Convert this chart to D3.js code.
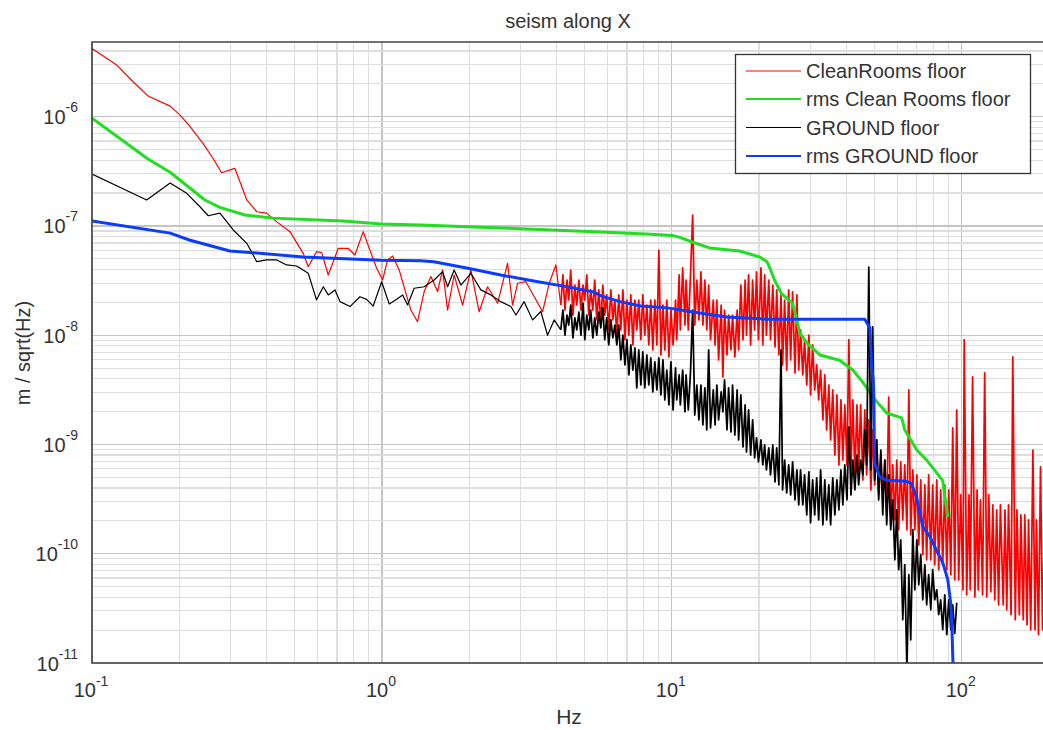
<!DOCTYPE html>
<html><head><meta charset="utf-8">
<script src="https://cdn.jsdelivr.net/npm/d3@7/dist/d3.min.js"></script>
<style>
html,body{margin:0;padding:0;background:#fff;}
svg{display:block;font-family:"Liberation Sans",Arial,sans-serif;}
</style></head>
<body><svg id="chart" width="1043" height="730"></svg>
<script>
// ---------- data ----------
const titleText = "seism along X";
const xLabelText = "Hz";
const yLabelText = "m / sqrt(Hz)";
const xTickExp = [-1, 0, 1, 2];
const yTickExp = [-11, -10, -9, -8, -7, -6];
const xDomain = [0.1, 200];
const yDomain = [1e-11, 4.83e-6];
const seriesNames = ["CleanRooms floor", "rms Clean Rooms floor", "GROUND floor", "rms GROUND floor"];

// frequency bins (Hz) of the dense, high-frequency part of the spectra
const denseFreq = [
 4.14,4.21,4.28,4.35,4.41,4.48,4.56,4.63,4.70,4.78,
 4.86,4.94,5.01,5.09,5.17,5.25,5.34,5.42,5.51,5.60,
 5.69,5.78,5.87,5.96,6.06,6.16,6.26,6.36,6.46,6.56,
 6.67,6.78,6.89,7.00,7.11,7.22,7.34,7.46,7.57,7.69,
 7.82,7.94,8.07,8.20,8.33,8.46,8.60,8.74,8.88,9.02,
 9.17,9.32,9.46,9.61,9.77,9.93,10.1,10.3,10.4,10.6,
 10.7,10.9,11.1,11.2,11.4,11.6,11.8,12.0,12.2,12.4,
 12.6,12.8,13.0,13.2,13.4,13.6,13.9,14.1,14.3,14.5,
 14.8,15.0,15.2,15.5,15.7,16.0,16.2,16.5,16.8,17.0,
 17.3,17.6,17.9,18.1,18.4,18.7,19.0,19.3,19.6,19.9,
 20.3,20.6,20.9,21.2,21.6,21.9,22.3,22.7,23.0,23.4,
 23.8,24.1,24.5,24.9,25.3,25.7,26.1,26.6,27.0,27.4,
 27.8,28.3,28.7,29.2,29.7,30.1,30.6,31.1,31.6,32.1,
 32.6,33.2,33.7,34.2,34.8,35.3,35.9,36.5,37.1,37.7,
 38.3,38.9,39.5,40.2,40.8,41.5,42.1,42.8,43.5,44.1,
 44.8,45.6,46.3,47.0,47.8,48.6,49.3,50.1,50.9,51.7,
 52.6,53.4,54.3,55.1,56.0,56.9,57.8,58.8,59.7,60.6,
 61.6,62.6,63.6,64.7,65.7,66.7,67.8,68.9,70.0,71.1,
 72.2,73.4,74.6,75.7,76.9,78.2,79.4,80.7,82.0,83.3,
 84.6,86.0,87.4,88.8,90.2,91.7,93.1,94.6,96.1,97.6,
 99.2,101,102,104,106,107,109,111,113,114,
 116,118,120,122,124,126,128,130,132,134,
 136,139,141,143,145,148,150,153,155,158,
 160,163,165,168,170,173,176,179,181,184,
 187,190,193];

// CleanRooms floor (m/sqrt(Hz))
const cleanLowFreq = [0.1,0.1217,0.1385,0.156,0.186,0.201,0.218,0.241,0.261,0.280,0.311,0.342,0.370,0.400,0.434,0.482,0.535,0.557,0.595,0.620,0.653,0.707,0.765,0.807,0.862,0.959,1.006,1.046,1.089,1.147,1.210,1.259,1.327,1.399,1.476,1.556,1.619,1.685,1.775,1.898,2.027,2.165,2.315,2.506,2.713,2.823,2.938,3.137,3.351,3.582,3.775,3.981];
const cleanLowAmp = [4.22e-6,2.97e-6,2.09e-6,1.55e-6,1.25e-6,1.04e-6,8.1e-7,5.74e-7,4.19e-7,3.07e-7,3.37e-7,1.73e-7,1.35e-7,1.31e-7,1.09e-7,8.87e-8,5.62e-8,4.24e-8,5.82e-8,5.70e-8,3.56e-8,6.25e-8,6.25e-8,5.43e-8,8.87e-8,4.10e-8,3.21e-8,4.89e-8,5.32e-8,3.96e-8,2.42e-8,1.70e-8,1.33e-8,2.51e-8,3.44e-8,2.51e-8,3.96e-8,1.70e-8,3.56e-8,1.89e-8,3.96e-8,1.64e-8,2.78e-8,1.96e-8,4.56e-8,1.89e-8,2.99e-8,3.09e-8,2.26e-8,1.64e-8,2.99e-8,4.40e-8];
const cleanDenseAmp = [
 1.89e-8,3.56e-8,1.7e-8,3.2e-8,2.1e-8,3.95e-8,1.53e-8,2.88e-8,1.89e-8,3.2e-8,
 1.7e-8,2.88e-8,2.1e-8,3.56e-8,1.53e-8,2.6e-8,1.7e-8,3.2e-8,1.38e-8,2.6e-8,
 1.24e-8,2.88e-8,1.53e-8,2.34e-8,1.12e-8,2.6e-8,1.38e-8,2.1e-8,1.0e-8,2.34e-8,
 1.12e-8,2.6e-8,9.1e-9,2.1e-8,1.0e-8,2.34e-8,8.15e-9,2.1e-8,1.12e-8,2.1e-8,
 9.1e-9,2.34e-8,1.0e-8,1.89e-8,8.15e-9,2.1e-8,7.35e-9,2.1e-8,8.15e-9,6.0e-8,
 6.6e-9,1.89e-8,7.35e-9,2.1e-8,6.33e-9,1.7e-8,8.15e-9,2.1e-8,9.1e-9,3.56e-8,
 1.12e-8,4.13e-8,1.24e-8,3.2e-8,1.12e-8,3.56e-8,1.26e-7,1.24e-8,3.2e-8,1.38e-8,
 3.8e-8,1.24e-8,3.2e-8,1.12e-8,2.88e-8,9.1e-9,2.1e-8,8.15e-9,2.1e-8,5.95e-9,
 1.89e-8,4.15e-9,1.7e-8,6.6e-9,1.53e-8,7.35e-9,1.53e-8,6.33e-9,1.7e-8,7.35e-9,
 2.88e-8,9.1e-9,3.2e-8,1.0e-8,3.56e-8,8.15e-9,3.2e-8,1.12e-8,3.8e-8,9.1e-9,
 4.13e-8,8.15e-9,3.56e-8,1.0e-8,3.2e-8,9.1e-9,2.88e-8,7.82e-9,2.6e-8,6.6e-9,
 2.34e-8,5.35e-9,2.1e-8,4.8e-9,2.6e-8,5.95e-9,2.49e-8,4.52e-9,2.34e-8,4.8e-9,
 1.12e-8,4.33e-9,9.1e-9,3.5e-9,1.0e-8,2.84e-9,8.15e-9,3.16e-9,5.35e-9,2.56e-9,
 4.8e-9,1.68e-9,4.33e-9,1.36e-9,3.5e-9,1.1e-9,3.16e-9,8.0e-10,2.84e-9,6.5e-10,
 2.56e-9,7.2e-10,2.3e-9,6.5e-10,9.1e-9,5.85e-10,2.56e-9,5.27e-10,2.3e-9,5.85e-10,
 2.3e-9,4.74e-10,2.07e-9,5.27e-10,1.68e-9,3.84e-10,1.36e-9,4.27e-10,1.1e-9,3.46e-10,
 8.0e-10,3.11e-10,7.2e-10,2.27e-10,2.72e-9,1.84e-10,6.5e-10,2.04e-10,7.2e-10,1.66e-10,
 6.93e-10,2.04e-10,6.5e-10,1.66e-10,3.16e-9,1.49e-10,5.85e-10,1.66e-10,5.27e-10,1.21e-10,
 4.74e-10,9.8e-11,4.27e-10,8.8e-11,5.27e-10,8.8e-11,4.27e-10,7.93e-11,4.74e-10,7.14e-11,
 3.84e-10,7.93e-11,4.27e-10,7.14e-11,3.84e-10,6.43e-11,1.42e-9,5.78e-11,2.07e-9,5.78e-11,
 3.46e-10,4.68e-11,9.1e-9,4.21e-11,3.46e-10,4.68e-11,4.15e-9,4.04e-11,3.84e-10,4.68e-11,
 3.11e-10,4.21e-11,4.52e-9,4.04e-11,3.46e-10,4.49e-11,2.8e-10,3.79e-11,2.52e-10,3.41e-11,
 2.8e-10,3.41e-11,2.52e-10,3.07e-11,2.8e-10,2.77e-11,6.33e-9,2.49e-11,2.52e-10,2.77e-11,
 2.27e-10,2.49e-11,2.27e-10,2.24e-11,2.04e-10,2.02e-11,8.9e-10,2.02e-11,2.04e-10,1.82e-11,
 6.24e-10,2.02e-11,2.04e-10];

// rms Clean Rooms floor
const rmsCleanFreq = [0.1,0.156,0.186,0.245,0.276,0.337,0.421,0.734,1.0,1.36,2.57,5.69,8.47,10.0,10.6,11.8,13.5,17.1,20.1,21.3,21.8,22.6,23.9,26.1,27.0,27.6,29.2,32.4,37.9,42.1,45.6,50.1,55.1,62.1,63.6,70.0,75.7,85.9,89.5];
const rmsCleanAmp = [9.7e-7,4.1e-7,3.1e-7,1.73e-7,1.48e-7,1.26e-7,1.18e-7,1.11e-7,1.04e-7,1.02e-7,9.6e-8,8.8e-8,8.4e-8,8.2e-8,7.9e-8,7.1e-8,6.3e-8,5.9e-8,5.2e-8,4.7e-8,4.1e-8,3.2e-8,2.4e-8,1.96e-8,1.38e-8,1.05e-8,8.5e-9,6.6e-9,5.9e-9,4.8e-9,3.7e-9,2.6e-9,1.94e-9,1.75e-9,1.36e-9,8.9e-10,7.2e-10,4.7e-10,2.17e-10];

// GROUND floor
const groundLowFreq = [0.1,0.1544,0.186,0.2122,0.2357,0.2518,0.2763,0.307,0.342,0.370,0.400,0.434,0.469,0.508,0.557,0.595,0.628,0.653,0.689,0.717,0.776,0.840,0.886,0.933,0.998,1.060,1.118,1.179,1.226,1.292,1.399,1.514,1.619,1.685,1.775,1.873,2.027,2.194,2.376,2.57,2.785,2.899,3.095,3.310,3.534,3.727,3.928];
const groundLowAmp = [2.99e-7,1.73e-7,2.47e-7,1.99e-7,1.50e-7,1.24e-7,1.31e-7,9.19e-8,6.94e-8,4.71e-8,4.89e-8,4.89e-8,4.40e-8,4.30e-8,3.69e-8,2.11e-8,2.78e-8,2.34e-8,2.60e-8,2.03e-8,1.83e-8,2.25e-8,2.13e-8,1.85e-8,3.09e-8,1.93e-8,2.11e-8,2.34e-8,1.89e-8,2.69e-8,2.78e-8,3.20e-8,3.82e-8,2.78e-8,3.96e-8,2.88e-8,3.69e-8,2.60e-8,2.34e-8,2.03e-8,1.83e-8,1.53e-8,2.03e-8,1.38e-8,1.65e-8,1.0e-8,1.38e-8];
const groundDenseAmp = [
 1.12e-8,1.7e-8,1.0e-8,1.53e-8,1.24e-8,1.89e-8,9.45e-9,1.44e-8,1.12e-8,1.63e-8,
 1.0e-8,1.97e-8,9.1e-9,1.53e-8,1.12e-8,1.7e-8,9.45e-9,1.44e-8,1.0e-8,1.63e-8,
 1.17e-8,1.78e-8,9.1e-9,1.44e-8,8.15e-9,1.38e-8,9.45e-9,1.24e-8,8.15e-9,1.24e-8,
 5.95e-9,1.0e-8,5.35e-9,9.1e-9,4.33e-9,8.15e-9,4.8e-9,7.65e-9,3.3e-9,7.35e-9,
 3.5e-9,7.03e-9,3.3e-9,6.6e-9,3.5e-9,6.2e-9,3.03e-9,5.7e-9,3.16e-9,6.2e-9,
 2.84e-9,5.95e-9,2.56e-9,4.8e-9,2.3e-9,5.7e-9,2.07e-9,5.02e-9,2.56e-9,4.33e-9,
 2.3e-9,4.8e-9,1.99e-9,4.33e-9,2.07e-9,4.62e-9,1.7e-8,1.86e-9,3.5e-9,1.68e-9,
 3.5e-9,1.51e-9,3.3e-9,1.36e-9,7.35e-9,1.42e-9,3.16e-9,1.51e-9,3.5e-9,1.68e-9,
 3.03e-9,1.99e-9,3.9e-9,1.36e-9,3.3e-9,1.3e-9,3.5e-9,1.22e-9,3.16e-9,1.1e-9,
 2.84e-9,9.5e-10,2.3e-9,8.56e-10,2.07e-9,8.0e-10,1.68e-9,7.54e-10,1.15e-9,6.93e-10,
 1.1e-9,6.5e-10,9.9e-10,5.85e-10,9.3e-10,5.27e-10,9.9e-10,4.55e-10,9.3e-10,4.27e-10,
 7.35e-9,3.84e-10,7.2e-10,3.61e-10,6.5e-10,3.46e-10,6.93e-10,3.11e-10,5.85e-10,2.8e-10,
 5.85e-10,2.8e-10,5.27e-10,2.27e-10,5.61e-10,1.92e-10,4.74e-10,2.27e-10,4.95e-10,2.04e-10,
 5.85e-10,1.84e-10,4.74e-10,2.04e-10,4.27e-10,1.84e-10,4.95e-10,2.27e-10,4.74e-10,2.52e-10,
 5.85e-10,2.8e-10,6.5e-10,3.11e-10,1.45e-9,3.46e-10,7.2e-10,3.84e-10,8.0e-10,4.27e-10,
 7.2e-10,5.27e-10,1.36e-9,6.5e-10,4.21e-8,5.85e-10,1.19e-8,4.74e-10,1.1e-9,3.11e-10,
 8.9e-10,2.27e-10,7.2e-10,1.84e-10,5.27e-10,1.66e-10,3.11e-10,8.8e-11,2.52e-10,7.14e-11,
 1.34e-10,2.49e-11,7.93e-11,8.6e-12,6.43e-11,1.63e-11,1.66e-10,4.68e-11,1.34e-10,5.2e-11,
 9.8e-11,3.79e-11,7.93e-11,3.41e-11,6.43e-11,3.07e-11,7.14e-11,3.79e-11,4.68e-11,2.77e-11,
 3.79e-11,2.02e-11,4.21e-11,1.82e-11,3.79e-11,2.02e-11,3.41e-11,1.86e-11,3.56e-11];

// rms GROUND floor
const rmsGroundFreq = [0.1,0.186,0.218,0.299,0.359,0.534,0.992,1.36,1.51,1.98,2.57,3.34,4.38,5.38,5.69,6.67,7.82,9.68,11.8,15.5,21.3,46.3,48.2,48.9,49.5,49.8,49.9,50.1,52.1,54.9,64.4,67.0,69.8,71.6,73.4,77.6,81.8,86.0,89.5,91.5,92.2,93.3,94.0];
const rmsGroundAmp = [1.11e-7,8.6e-8,7.4e-8,5.9e-8,5.7e-8,5.2e-8,4.85e-8,4.8e-8,4.7e-8,4.1e-8,3.56e-8,3.14e-8,2.77e-8,2.49e-8,2.29e-8,2.02e-8,1.85e-8,1.78e-8,1.63e-8,1.47e-8,1.40e-8,1.40e-8,1.17e-8,5.2e-9,3.9e-9,2.56e-9,1.18e-9,6.7e-10,5.1e-10,4.7e-10,4.6e-10,4.4e-10,3.3e-10,2.4e-10,1.77e-10,1.44e-10,1.08e-10,8.3e-11,5.8e-11,3.6e-11,2.7e-11,1.0e-11,7e-12];

// ---------- build series ----------
const zip = (fs, vs) => fs.map((f, i) => ({f: f, v: vs[i]}));
const cleanLow = zip(cleanLowFreq, cleanLowAmp);
const cleanDense = zip(denseFreq.slice(0, cleanDenseAmp.length), cleanDenseAmp);
const groundLow = zip(groundLowFreq, groundLowAmp);
const groundDense = zip(denseFreq.slice(0, groundDenseAmp.length), groundDenseAmp);

const series = [
  {name: seriesNames[0], color: "#ff0000", legendWidth: 1.2,
   parts: [{data: cleanLow.concat(cleanDense.slice(0, 1)), width: 1.2}, {data: cleanDense, width: 1.75}]},
  {name: seriesNames[1], color: "#22dd22", legendWidth: 2.2,
   parts: [{data: zip(rmsCleanFreq, rmsCleanAmp), width: 3}]},
  {name: seriesNames[2], color: "#000000", legendWidth: 1.2,
   parts: [{data: groundLow.concat(groundDense.slice(0, 1)), width: 1.2}, {data: groundDense, width: 1.75}]},
  {name: seriesNames[3], color: "#0a3cff", legendWidth: 2.2,
   parts: [{data: zip(rmsGroundFreq, rmsGroundAmp), width: 3}]}
];

// ---------- layout ----------
const W = 1043, H = 730;
const L = 92, T = 42, B = 663, R = 1049;
const svg = d3.select("#chart");
svg.append("rect").attr("width", W).attr("height", H).attr("fill", "#fff");

const x = d3.scaleLog().domain(xDomain).range([L, R]);
const y = d3.scaleLog().domain(yDomain).range([B, T]);

svg.append("defs").append("clipPath").attr("id", "plotclip")
  .append("rect").attr("x", L).attr("y", T).attr("width", R - L).attr("height", B - T);

// grid
const isDecade = v => Math.abs(Math.log10(v) - Math.round(Math.log10(v))) < 1e-6;
const grid = svg.append("g");
grid.selectAll("line.vx").data(x.ticks()).join("line")
  .attr("x1", d => x(d)).attr("x2", d => x(d)).attr("y1", T).attr("y2", B)
  .attr("stroke", d => isDecade(d) ? "#c4c4c4" : "#dedede").attr("stroke-width", 1.2)
  .attr("shape-rendering", "crispEdges");
grid.selectAll("line.hy").data(y.ticks()).join("line")
  .attr("y1", d => y(d)).attr("y2", d => y(d)).attr("x1", L).attr("x2", R)
  .attr("stroke", d => isDecade(d) ? "#c4c4c4" : "#dedede").attr("stroke-width", 1.2)
  .attr("shape-rendering", "crispEdges");

// series
const line = d3.line().x(d => x(d.f)).y(d => y(d.v));
const plot = svg.append("g").attr("clip-path", "url(#plotclip)");
series.forEach(s => {
  s.parts.forEach(p => {
    plot.append("path").datum(p.data)
      .attr("fill", "none").attr("stroke", s.color).attr("stroke-width", p.width)
      .attr("stroke-linejoin", "round").attr("d", line);
  });
});

// frame
svg.append("path")
  .attr("d", `M${R},${T}H${L}V${B}H${R}`)
  .attr("fill", "none").attr("stroke", "#444").attr("stroke-width", 1.6);

// tick labels
const xt = svg.append("g").attr("font-size", 20).attr("fill", "#333");
xTickExp.forEach(e => {
  const t = xt.append("text").attr("x", x(Math.pow(10, e)) - 1).attr("y", 697)
    .attr("text-anchor", "middle");
  t.append("tspan").text("10");
  t.append("tspan").attr("dy", -11).attr("font-size", 14).text(String(e));
});
const yt = svg.append("g").attr("font-size", 20).attr("fill", "#333");
yTickExp.forEach(e => {
  const t = yt.append("text").attr("x", 78).attr("y", y(Math.pow(10, e)) + 7.5)
    .attr("text-anchor", "end");
  t.append("tspan").text("10");
  t.append("tspan").attr("dy", -12).attr("font-size", 14).text(String(e));
});

// titles
svg.append("text").attr("x", 568).attr("y", 28).attr("text-anchor", "middle")
  .attr("font-size", 20).attr("fill", "#333").text(titleText);
svg.append("text").attr("x", 569).attr("y", 724).attr("text-anchor", "middle")
  .attr("font-size", 21).attr("fill", "#333").text(xLabelText);
svg.append("text").attr("transform", "translate(30,353) rotate(-90)").attr("text-anchor", "middle")
  .attr("font-size", 20).attr("fill", "#333").text(yLabelText);

// legend
const lg = svg.append("g");
lg.append("rect").attr("x", 735.5).attr("y", 54.5).attr("width", 295).attr("height", 119)
  .attr("fill", "#fff").attr("stroke", "#333").attr("stroke-width", 1.3);
const rowY = [71, 99, 127.5, 156];
series.forEach((s, i) => {
  lg.append("line").attr("x1", 746).attr("x2", 801).attr("y1", rowY[i]).attr("y2", rowY[i])
    .attr("stroke", s.color).attr("stroke-width", s.legendWidth);
  lg.append("text").attr("x", 806).attr("y", rowY[i] + 7).attr("font-size", 20)
    .attr("fill", "#333").text(s.name);
});
</script></body></html>
